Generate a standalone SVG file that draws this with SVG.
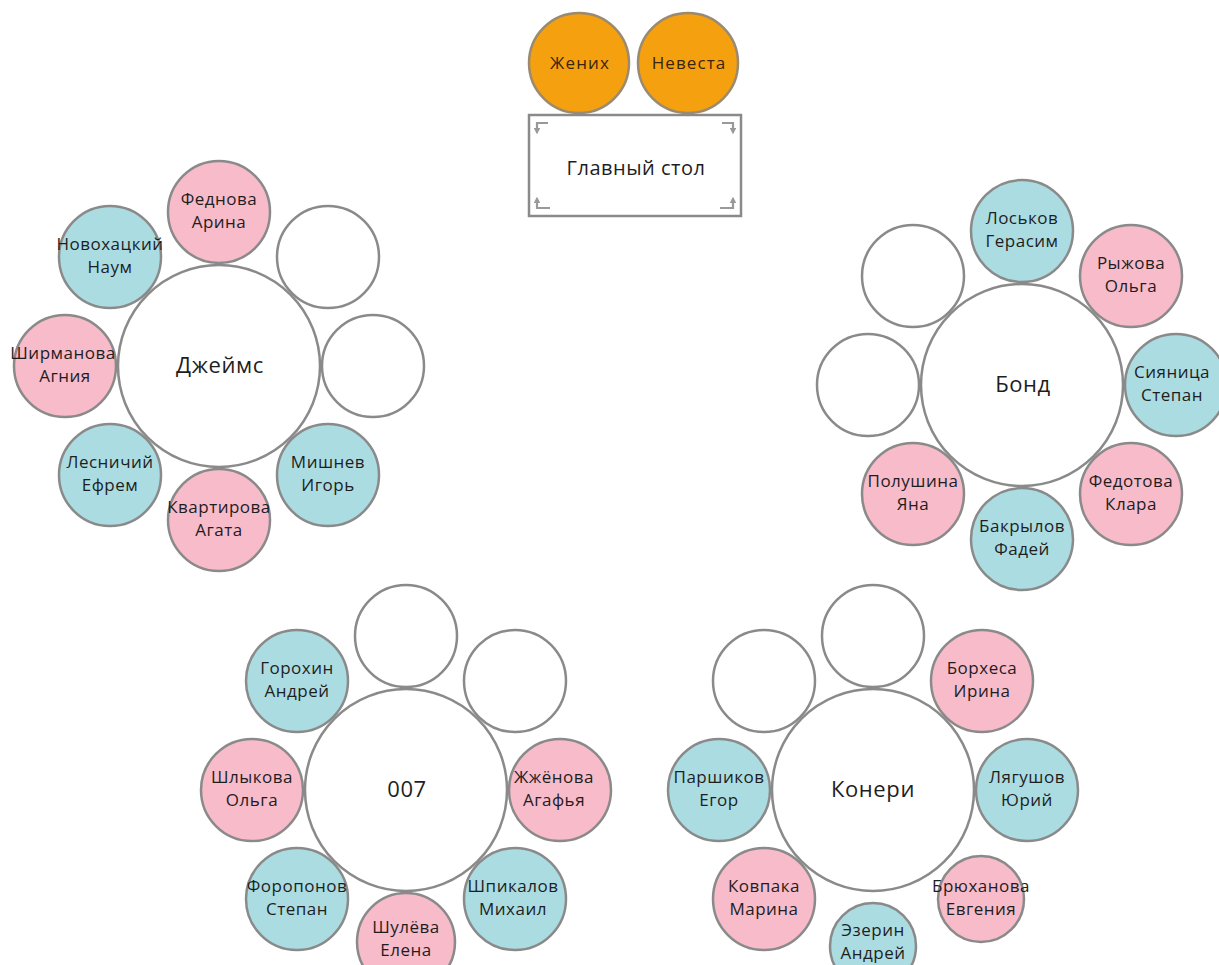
<svg xmlns="http://www.w3.org/2000/svg" width="1219" height="965" viewBox="0 0 1219 965">
<style>
.bg{fill:#ffffff}
.tbl{fill:#ffffff;stroke:#8a8a8a;stroke-width:2.5}
.seat{stroke:#8a8a8a;stroke-width:2.5}
.blue{fill:#ABDCE2}
.pink{fill:#F8BBCA}
.empty{fill:#ffffff}
.gold{fill:#F5A00F;stroke:#9a8a70;stroke-width:2.5}
.t{font-family:"Open Sans","Noto Sans","DejaVu Sans",sans-serif;font-size:17px;letter-spacing:0.5px;text-anchor:middle;fill:#1e1e1e}
.big{font-size:22px;letter-spacing:0.6px}
.gt{font-size:17px;letter-spacing:1.1px;fill:#3a2410}
.icon{fill:none;stroke:#999999;stroke-width:2.2}
</style>
<defs>
<marker id="ah" viewBox="0 0 6 6" refX="2" refY="3" markerWidth="3" markerHeight="3" orient="auto">
<path d="M0,0 L6,3 L0,6 z" fill="#999999"/>
</marker>
</defs>
<rect class="bg" x="0" y="0" width="1219" height="965"/>
<g id="connectors"/>

<g id="main-table">
<circle class="gold" cx="579" cy="63" r="50"/>
<text class="t gt" x="580" y="69">Жених</text>
<circle class="gold" cx="688" cy="63" r="50"/>
<text class="t gt" x="689" y="69">Невеста</text>
<rect class="tbl" x="529" y="115" width="212" height="101"/>
<path class="icon" d="M548 123 H537 V130" marker-end="url(#ah)"/>
<path class="icon" d="M722 123 H733 V130" marker-end="url(#ah)"/>
<path class="icon" d="M550 208 H537 V201" marker-end="url(#ah)"/>
<path class="icon" d="M720 208 H733 V201" marker-end="url(#ah)"/>
<text class="t" x="636" y="175" style="font-size:20px;letter-spacing:0.5px">Главный стол</text>
</g>

<g id="table-james">
<circle class="tbl" cx="219" cy="366" r="101"/>
<text class="t big" x="220" y="373">Джеймс</text>
</g>
<g id="james-seat-1"><circle class="seat pink" cx="219" cy="212" r="51"/><text class="t" x="219" y="205">Феднова</text><text class="t" x="219" y="228">Арина</text></g>
<g id="james-seat-2"><circle class="seat empty" cx="328" cy="257" r="51"/></g>
<g id="james-seat-3"><circle class="seat empty" cx="373" cy="366" r="51"/></g>
<g id="james-seat-4"><circle class="seat blue" cx="328" cy="475" r="51"/><text class="t" x="328" y="468">Мишнев</text><text class="t" x="328" y="491">Игорь</text></g>
<g id="james-seat-5"><circle class="seat pink" cx="219" cy="520" r="51"/><text class="t" x="219" y="513">Квартирова</text><text class="t" x="219" y="536">Агата</text></g>
<g id="james-seat-6"><circle class="seat blue" cx="110" cy="475" r="51"/><text class="t" x="110" y="468">Лесничий</text><text class="t" x="110" y="491">Ефрем</text></g>
<g id="james-seat-7"><circle class="seat pink" cx="65" cy="366" r="51"/><text class="t" x="63" y="359">Ширманова</text><text class="t" x="65" y="382">Агния</text></g>
<g id="james-seat-8"><circle class="seat blue" cx="110" cy="257" r="51"/><text class="t" x="110" y="250">Новохацкий</text><text class="t" x="110" y="273">Наум</text></g>

<g id="table-bond">
<circle class="tbl" cx="1022" cy="385" r="101"/>
<text class="t big" x="1023" y="392">Бонд</text>
</g>
<g id="bond-seat-1"><circle class="seat blue" cx="1022" cy="231" r="51"/><text class="t" x="1022" y="224">Лоськов</text><text class="t" x="1022" y="247">Герасим</text></g>
<g id="bond-seat-2"><circle class="seat pink" cx="1131" cy="276" r="51"/><text class="t" x="1131" y="269">Рыжова</text><text class="t" x="1131" y="292">Ольга</text></g>
<g id="bond-seat-3"><circle class="seat blue" cx="1176" cy="385" r="51"/><text class="t" x="1172" y="378">Сияница</text><text class="t" x="1172" y="401">Степан</text></g>
<g id="bond-seat-4"><circle class="seat pink" cx="1131" cy="494" r="51"/><text class="t" x="1131" y="487">Федотова</text><text class="t" x="1131" y="510">Клара</text></g>
<g id="bond-seat-5"><circle class="seat blue" cx="1022" cy="539" r="51"/><text class="t" x="1022" y="532">Бакрылов</text><text class="t" x="1022" y="555">Фадей</text></g>
<g id="bond-seat-6"><circle class="seat pink" cx="913" cy="494" r="51"/><text class="t" x="913" y="487">Полушина</text><text class="t" x="913" y="510">Яна</text></g>
<g id="bond-seat-7"><circle class="seat empty" cx="868" cy="385" r="51"/></g>
<g id="bond-seat-8"><circle class="seat empty" cx="913" cy="276" r="51"/></g>

<g id="table-007">
<circle class="tbl" cx="406" cy="790" r="101"/>
<text class="t big" x="407" y="797">007</text>
</g>
<g id="t007-seat-1"><circle class="seat empty" cx="406" cy="636" r="51"/></g>
<g id="t007-seat-2"><circle class="seat empty" cx="515" cy="681" r="51"/></g>
<g id="t007-seat-3"><circle class="seat pink" cx="560" cy="790" r="51"/><text class="t" x="554" y="783">Жжёнова</text><text class="t" x="554" y="806">Агафья</text></g>
<g id="t007-seat-4"><circle class="seat blue" cx="515" cy="899" r="51"/><text class="t" x="513" y="892">Шпикалов</text><text class="t" x="513" y="915">Михаил</text></g>
<g id="t007-seat-5"><circle class="seat pink" cx="406" cy="942" r="49"/><text class="t" x="406" y="933">Шулёва</text><text class="t" x="406" y="956">Елена</text></g>
<g id="t007-seat-6"><circle class="seat blue" cx="297" cy="899" r="51"/><text class="t" x="297" y="892">Форопонов</text><text class="t" x="297" y="915">Степан</text></g>
<g id="t007-seat-7"><circle class="seat pink" cx="252" cy="790" r="51"/><text class="t" x="252" y="783">Шлыкова</text><text class="t" x="252" y="806">Ольга</text></g>
<g id="t007-seat-8"><circle class="seat blue" cx="297" cy="681" r="51"/><text class="t" x="297" y="674">Горохин</text><text class="t" x="297" y="697">Андрей</text></g>

<g id="table-koneri">
<circle class="tbl" cx="873" cy="790" r="101"/>
<text class="t big" x="873" y="797">Конери</text>
</g>
<g id="koneri-seat-1"><circle class="seat empty" cx="873" cy="636" r="51"/></g>
<g id="koneri-seat-2"><circle class="seat pink" cx="982" cy="681" r="51"/><text class="t" x="982" y="674">Борхеса</text><text class="t" x="982" y="697">Ирина</text></g>
<g id="koneri-seat-3"><circle class="seat blue" cx="1027" cy="790" r="51"/><text class="t" x="1027" y="783">Лягушов</text><text class="t" x="1027" y="806">Юрий</text></g>
<g id="koneri-seat-4"><circle class="seat pink" cx="981" cy="899" r="43"/><text class="t" x="981" y="892">Брюханова</text><text class="t" x="981" y="915">Евгения</text></g>
<g id="koneri-seat-5"><circle class="seat blue" cx="873" cy="946" r="43"/><text class="t" x="873" y="936">Эзерин</text><text class="t" x="873" y="959">Андрей</text></g>
<g id="koneri-seat-6"><circle class="seat pink" cx="764" cy="899" r="51"/><text class="t" x="764" y="892">Ковпака</text><text class="t" x="764" y="915">Марина</text></g>
<g id="koneri-seat-7"><circle class="seat blue" cx="719" cy="790" r="51"/><text class="t" x="719" y="783">Паршиков</text><text class="t" x="719" y="806">Егор</text></g>
<g id="koneri-seat-8"><circle class="seat empty" cx="764" cy="681" r="51"/></g>
</svg>
